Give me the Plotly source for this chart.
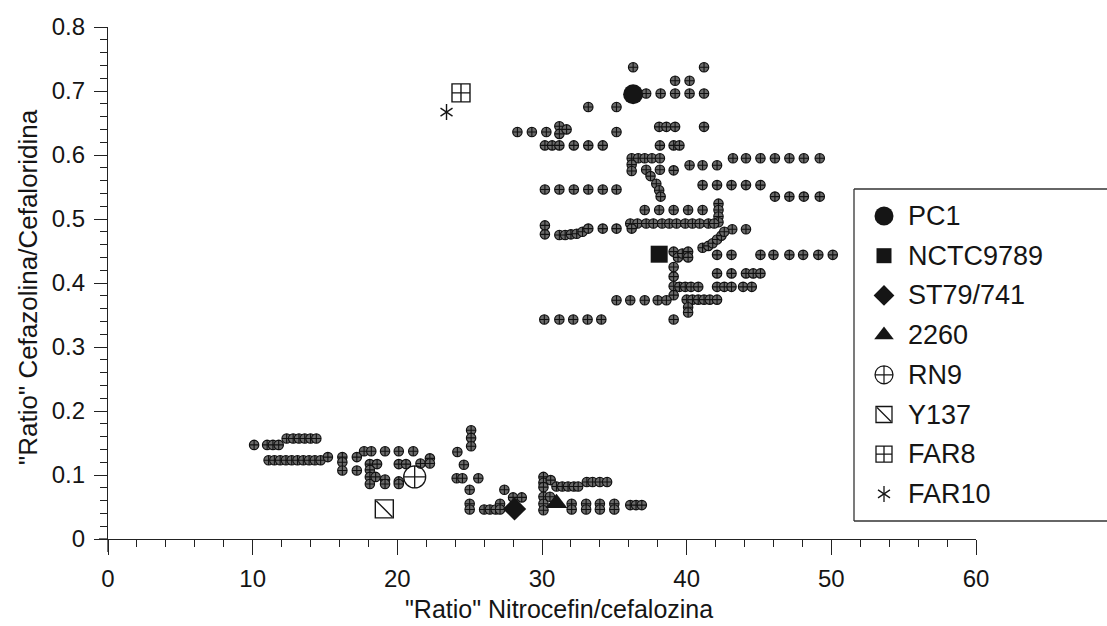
import plotly.graph_objects as go

# ---------------- data ----------------
# labelled strains
strain_names = ["PC1", "NCTC9789", "ST79/741", "2260", "RN9", "Y137", "FAR8", "FAR10"]
strain_x = [36.3, 38.1, 28.1, 31.0, 21.2, 19.1, 24.4, 23.4]
strain_y = [0.695, 0.445, 0.047, 0.056, 0.097, 0.047, 0.697, 0.667]

# unlabelled isolates (small crossed circles)
other_x = [
    # upper cluster
    36.3, 41.2,
    39.2, 40.2,
    37.2, 38.2, 39.2, 40.2, 41.2,
    33.2, 35.15,
    38.1, 38.6, 39.2, 41.2, 31.2,
    28.3, 29.3, 30.3, 31.2, 31.7, 35.15,
    30.2, 30.7, 31.2, 32.2, 33.2, 34.2, 38.15, 39.1, 39.5,
    36.2, 36.65, 37.1, 37.6, 38.15, 43.2, 44.1, 45.1, 46.1, 47.1, 48.1, 49.2,
    36.2, 40.2, 41.1, 42.1,
    36.2, 37.2, 38.15, 39.1,
    37.5, 37.9, 38.1, 38.2,
    41.1, 42.1, 43.1, 44.1, 45.1,
    30.2, 31.2, 32.2, 33.2, 34.2, 35.15,
    46.1, 47.1, 48.1, 49.2,
    37.1, 38.1, 39.1, 40.1, 41.1,
    42.2, 42.2, 42.2, 42.2,
    36.1, 36.6, 37.2, 37.7, 38.3, 38.8, 39.3, 39.9, 40.4, 40.9, 41.5, 41.9,
    34.2, 35.15, 36.2, 43.15, 44.1,
    30.2, 30.2, 31.2, 31.6, 32.0, 32.4, 32.8, 33.2,
    41.1, 41.5, 41.8, 42.1, 42.4, 42.6,
    39.1, 39.4, 39.7, 40.1, 40.1,
    42.1, 43.1, 45.1, 46.0, 47.1, 48.05, 49.1, 50.1,
    42.1, 43.1, 44.1, 44.6, 45.1,
    39.1, 39.1, 39.1, 39.1,
    35.15, 36.1, 37.1, 38.0, 38.6,
    39.5, 39.9, 40.3, 40.8, 42.1, 42.6, 43.1, 43.9, 44.5,
    40.0, 40.4, 40.8, 41.2, 41.6, 42.1,
    40.1, 40.1,
    30.16, 31.2, 32.16, 33.15, 34.1, 39.1,
    # lower cluster
    10.1, 11.0, 11.4, 11.8,
    12.35, 12.8, 13.2, 13.6, 14.0, 14.4,
    11.1, 11.5, 11.9, 12.3, 12.7, 13.1, 13.5, 13.9, 14.3, 14.7, 15.2,
    16.2, 16.2, 16.2,
    17.2, 17.2,
    17.7, 18.2, 19.15, 20.1, 21.1, 24.15,
    18.1, 18.6, 20.1, 20.6, 21.6, 22.25, 22.25,
    18.1, 18.1, 18.1, 18.5,
    19.15, 19.15,
    20.1, 20.1,
    25.1, 25.1, 25.1,
    24.6,
    24.1, 24.5, 25.6,
    25.0,
    25.0, 25.0,
    26.0, 26.4, 26.8,
    27.1, 27.1,
    27.4,
    28.0, 28.6,
    30.1, 30.1, 30.1, 30.6,
    30.1, 30.1, 30.1, 30.55,
    31.0, 31.4, 31.8, 32.2, 32.5,
    32.05, 32.05, 33.05, 33.05, 34.0, 34.0, 35.0, 35.0,
    33.1, 33.5, 34.0, 34.5,
    36.1, 36.5, 36.9,
]
other_y = [
    0.737, 0.737,
    0.716, 0.716,
    0.696, 0.696, 0.696, 0.696, 0.696,
    0.675, 0.675,
    0.644, 0.644, 0.644, 0.644, 0.645,
    0.636, 0.636, 0.636, 0.633, 0.640, 0.636,
    0.615, 0.615, 0.615, 0.615, 0.615, 0.615, 0.615, 0.615, 0.615,
    0.595, 0.595, 0.595, 0.595, 0.595, 0.595, 0.595, 0.595, 0.595, 0.595, 0.595, 0.595,
    0.585, 0.584, 0.584, 0.584,
    0.575, 0.577, 0.577, 0.576,
    0.567, 0.555, 0.545, 0.535,
    0.553, 0.553, 0.553, 0.553, 0.553,
    0.546, 0.546, 0.546, 0.546, 0.546, 0.546,
    0.535, 0.535, 0.535, 0.535,
    0.514, 0.514, 0.514, 0.514, 0.514,
    0.524, 0.514, 0.504, 0.495,
    0.493, 0.493, 0.493, 0.493, 0.493, 0.493, 0.493, 0.493, 0.493, 0.493, 0.493, 0.493,
    0.485, 0.485, 0.485, 0.484, 0.484,
    0.490, 0.476, 0.475, 0.475, 0.476, 0.477, 0.480, 0.485,
    0.455, 0.458, 0.462, 0.468, 0.474, 0.480,
    0.449, 0.440, 0.446, 0.449, 0.440,
    0.444, 0.444, 0.444, 0.444, 0.444, 0.444, 0.444, 0.444,
    0.415, 0.415, 0.415, 0.415, 0.415,
    0.425, 0.410, 0.395, 0.381,
    0.373, 0.373, 0.373, 0.373, 0.373,
    0.394, 0.394, 0.394, 0.394, 0.394, 0.394, 0.394, 0.394, 0.394,
    0.374, 0.374, 0.374, 0.374, 0.374, 0.374,
    0.362, 0.354,
    0.343, 0.343, 0.343, 0.343, 0.343, 0.343,
    # lower cluster
    0.147, 0.147, 0.147, 0.147,
    0.157, 0.157, 0.157, 0.157, 0.157, 0.157,
    0.123, 0.123, 0.123, 0.123, 0.123, 0.123, 0.123, 0.123, 0.123, 0.123, 0.128,
    0.128, 0.120, 0.107,
    0.128, 0.107,
    0.137, 0.137, 0.137, 0.137, 0.137, 0.136,
    0.117, 0.117, 0.117, 0.117, 0.118, 0.126, 0.118,
    0.108, 0.097, 0.086, 0.097,
    0.093, 0.086,
    0.090, 0.086,
    0.170, 0.158, 0.145,
    0.116,
    0.095, 0.095, 0.095,
    0.077,
    0.055, 0.046,
    0.046, 0.046, 0.046,
    0.055, 0.046,
    0.077,
    0.065, 0.065,
    0.097, 0.088, 0.081, 0.092,
    0.066, 0.055, 0.045, 0.066,
    0.082, 0.082, 0.082, 0.082, 0.082,
    0.055, 0.046, 0.055, 0.046, 0.055, 0.046, 0.055, 0.046,
    0.089, 0.089, 0.089, 0.089,
    0.053, 0.053, 0.053,
]

x_ticks = [0, 10, 20, 30, 40, 50, 60]
y_ticks = [0, 0.1, 0.2, 0.3, 0.4, 0.5, 0.6, 0.7, 0.8]
y_tick_text = ["0", "0.1", "0.2", "0.3", "0.4", "0.5", "0.6", "0.7", "0.8"]

x_title = '"Ratio" Nitrocefin/cefalozina'
y_title = '"Ratio" Cefazolina/Cefaloridina'

# ---------------- styles ----------------
FONT = "Liberation Sans, Arial, sans-serif"
INK = "#151515"
W, H = 1107, 626
L, R, T, B = 108, 131, 27, 87
PW, PH = W - L - R, H - T - B


def px(xp):
    return (xp - L) / PW


def py(yp):
    return (H - B - yp) / PH


styles = [
    dict(symbol="circle", size=20, color=INK, line=dict(width=0)),
    dict(symbol="square", size=17, color=INK, line=dict(width=0)),
    dict(symbol="diamond", size=18, color=INK, line=dict(width=0)),
    dict(symbol="triangle-up", size=19, color=INK, line=dict(width=0)),
    dict(symbol="circle-cross-open", size=22, color=INK, line=dict(width=1.3)),
    dict(symbol="square-open", size=18, color=INK, line=dict(width=1.4)),
    dict(symbol="square-cross-open", size=18, color=INK, line=dict(width=1.4)),
    dict(symbol="y-up-open", size=10, color=INK, line=dict(width=1.4, color=INK)),
]
legend_styles = [
    dict(symbol="circle", size=19, color=INK, line=dict(width=0)),
    dict(symbol="square", size=15, color=INK, line=dict(width=0)),
    dict(symbol="diamond", size=16, color=INK, line=dict(width=0)),
    dict(symbol="triangle-up", size=17, color=INK, line=dict(width=0)),
    dict(symbol="circle-cross-open", size=18, color=INK, line=dict(width=1.2)),
    dict(symbol="square-open", size=16, color=INK, line=dict(width=1.3)),
    dict(symbol="square-cross-open", size=16, color=INK, line=dict(width=1.3)),
    dict(symbol="y-up-open", size=10, color=INK, line=dict(width=1.3, color=INK)),
]

fig = go.Figure()

# unlabelled isolates
fig.add_trace(go.Scatter(
    x=other_x, y=other_y, mode="markers", showlegend=False, hoverinfo="skip",
    marker=dict(symbol="circle-cross", size=9.5, color="#6a6a6a",
                line=dict(width=1.1, color="#111111")),
))

# labelled strains
for i, name in enumerate(strain_names):
    fig.add_trace(go.Scatter(x=[strain_x[i]], y=[strain_y[i]], mode="markers",
                             name=name, showlegend=False, marker=styles[i]))
    if name == "Y137":
        fig.add_trace(go.Scatter(x=[strain_x[i]], y=[strain_y[i]], mode="markers",
                                 showlegend=False,
                                 marker=dict(symbol="line-nw", size=16, color=INK,
                                             line=dict(width=1.4, color=INK))))
    if name == "FAR10":
        fig.add_trace(go.Scatter(x=[strain_x[i]], y=[strain_y[i]], mode="markers",
                                 showlegend=False,
                                 marker=dict(symbol="y-down-open", size=10, color=INK,
                                             line=dict(width=1.4, color=INK))))

# ---------------- manual legend (pixel overlay axes) ----------------
LEG_SYM_X = 884
LEG_TXT_X = 906
LEG_Y0, LEG_DY = 216, 39.7
for i, name in enumerate(strain_names):
    yy = LEG_Y0 + i * LEG_DY
    fig.add_trace(go.Scatter(x=[LEG_SYM_X], y=[yy], xaxis="x2", yaxis="y2",
                             mode="markers", showlegend=False, hoverinfo="skip",
                             marker=legend_styles[i], cliponaxis=False))
    if name == "Y137":
        fig.add_trace(go.Scatter(x=[LEG_SYM_X], y=[yy], xaxis="x2", yaxis="y2",
                                 mode="markers", showlegend=False, hoverinfo="skip",
                                 marker=dict(symbol="line-nw", size=14, color=INK,
                                             line=dict(width=1.3, color=INK))))
    if name == "FAR10":
        fig.add_trace(go.Scatter(x=[LEG_SYM_X], y=[yy], xaxis="x2", yaxis="y2",
                                 mode="markers", showlegend=False, hoverinfo="skip",
                                 marker=dict(symbol="y-down-open", size=10, color=INK,
                                             line=dict(width=1.3, color=INK))))
    fig.add_annotation(x=px(LEG_TXT_X), y=py(yy), xref="paper", yref="paper",
                       text=name, showarrow=False, xanchor="left", yanchor="middle",
                       font=dict(family=FONT, size=27, color=INK))

# legend box (open on the right like the scan)
BX0, BY0, BY1, BX1 = 854, 189, 521, 1120
line_style = dict(color="#333", width=1.3)
fig.add_shape(type="line", xref="paper", yref="paper", x0=px(BX0), x1=px(BX1),
              y0=py(BY0), y1=py(BY0), line=line_style)
fig.add_shape(type="line", xref="paper", yref="paper", x0=px(BX0), x1=px(BX1),
              y0=py(BY1), y1=py(BY1), line=line_style)
fig.add_shape(type="line", xref="paper", yref="paper", x0=px(BX0), x1=px(BX0),
              y0=py(BY0), y1=py(BY1), line=line_style)

# small axis overshoots seen in the scan
axis_line = dict(color="#222", width=1.3)
fig.add_shape(type="line", xref="paper", yref="paper", x0=px(99), x1=px(108),
              y0=0, y1=0, line=axis_line)
fig.add_shape(type="line", xref="paper", yref="paper", x0=0, x1=0,
              y0=py(539), y1=py(552), line=axis_line)

# axis titles
fig.add_annotation(x=px(559), y=py(609), xref="paper", yref="paper", text=x_title,
                   showarrow=False, xanchor="center", yanchor="middle",
                   font=dict(family=FONT, size=25, color=INK))
fig.add_annotation(x=px(28), y=py(287), xref="paper", yref="paper", text=y_title,
                   showarrow=False, textangle=-90, xanchor="center", yanchor="middle",
                   font=dict(family=FONT, size=26, color=INK))

axis_common = dict(showgrid=False, zeroline=False, showline=True, linecolor="#222",
                   linewidth=1.3, ticks="outside", tickcolor="#222", tickwidth=1.3,
                   tickfont=dict(family=FONT, size=24, color=INK))

fig.update_layout(
    width=W, height=H,
    margin=dict(l=L, r=R, t=T, b=B),
    paper_bgcolor="white", plot_bgcolor="white",
    showlegend=False,
    xaxis=dict(range=[0, 60], tickvals=x_ticks, ticklen=15,
               minor=dict(dtick=2, ticklen=7, ticks="outside", tickcolor="#222", tickwidth=1.2),
               ticklabelstandoff=3, **axis_common),
    yaxis=dict(range=[0, 0.8], tickvals=y_ticks, ticktext=y_tick_text, ticklen=13,
               minor=dict(dtick=0.02, ticklen=7, ticks="outside", tickcolor="#222", tickwidth=1.2),
               ticklabelstandoff=4, **axis_common),
    xaxis2=dict(overlaying="x", range=[L, W - R], visible=False, fixedrange=True),
    yaxis2=dict(overlaying="y", range=[H - B, T], visible=False, fixedrange=True),
)

fig.write_html("out.html", config={"displayModeBar": False},
               post_script="document.body.style.margin='0';document.body.style.overflow='hidden';")
